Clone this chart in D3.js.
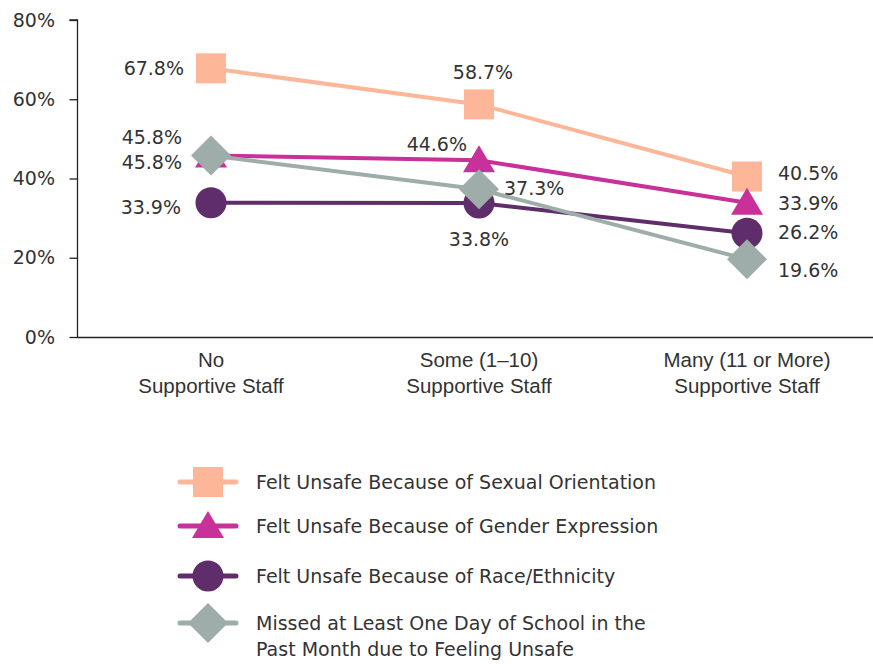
<!DOCTYPE html>
<html><head><meta charset="utf-8">
<script src="https://cdn.jsdelivr.net/npm/d3@7"></script>
<style>body{margin:0;background:#fff}svg{display:block}</style>
</head><body>
<svg id="c" width="873" height="664"></svg>
<script>
const categories = ["No\nSupportive Staff", "Some (1–10)\nSupportive Staff", "Many (11 or More)\nSupportive Staff"];
const yTicks = [0, 20, 40, 60, 80];
const seriesNames = [
  "Felt Unsafe Because of Sexual Orientation",
  "Felt Unsafe Because of Gender Expression",
  "Felt Unsafe Because of Race/Ethnicity",
  "Missed at Least One Day of School in the\nPast Month due to Feeling Unsafe"
];
const sexualOrientation = [67.8, 58.7, 40.5];
const genderExpression = [45.8, 44.6, 33.9];
const raceEthnicity = [33.9, 33.8, 26.2];
const missedSchool = [45.8, 37.3, 19.6];
const colors = ["#fdb697", "#c8309a", "#5f2d69", "#9eada9"];
// label placement: [dx, dy, anchor] per point
const labelPos = [
  [[-27, 0, "end"], [4, -32, "middle"], [31, -3, "start"]],
  [[-29, -18, "end"], [-12, -16, "end"], [31, 0, "start"]],
  [[-30, 4, "end"], [0, 36, "middle"], [31, -1, "start"]],
  [[-29, 7, "end"], [25, -1, "start"], [31, 11, "start"]]
];
const seriesData = [sexualOrientation, genderExpression, raceEthnicity, missedSchool];

const markerPaths = [
  "M-15,-15H15V15H-15Z",
  "M0,-15L16,12H-16Z",
  "M15.5,0A15.5,15.5,0,1,1,-15.5,0A15.5,15.5,0,1,1,15.5,0Z",
  "M0,-20L20,0L0,20L-20,0Z"
];

const svg = d3.select("#c");
const font = "'DejaVu Sans', sans-serif";
const catFont = "'Liberation Sans', Arial, sans-serif";

const x = d3.scalePoint().domain(d3.range(categories.length)).range([211, 747]);
const y = d3.scaleLinear().domain([0, 80]).range([337, 20]);

// Y axis
const yAxis = svg.append("g").attr("transform", "translate(77.5,0)")
  .call(d3.axisLeft(y).tickValues(yTicks).tickFormat(d => d + "%").tickSize(8).tickPadding(14.5));
yAxis.select(".domain").attr("stroke", "#222").attr("stroke-width", 1.3).attr("d", "M-8,20H0V337.5");
yAxis.selectAll(".tick line").attr("stroke", "#222").attr("stroke-width", 1.3);
yAxis.selectAll(".tick text").attr("font-family", font).attr("font-size", 19).attr("fill", "#333");

// X axis line
svg.append("line").attr("x1", 77).attr("x2", 873).attr("y1", 337.5).attr("y2", 337.5)
  .attr("stroke", "#222").attr("stroke-width", 1.3);

// category labels
categories.forEach((c, i) => {
  const t = svg.append("text").attr("x", x(i)).attr("y", 367).attr("text-anchor", "middle")
    .attr("font-family", catFont).attr("font-size", 20.5).attr("fill", "#333");
  c.split("\n").forEach((line, j) => t.append("tspan").attr("x", x(i)).attr("dy", j ? 26 : 0).text(line));
});

const line = d3.line().x((d, i) => x(i)).y(d => y(d));

seriesData.forEach((vals, s) => {
  svg.append("path").attr("d", line(vals)).attr("fill", "none")
    .attr("stroke", colors[s]).attr("stroke-width", 4);
});
seriesData.forEach((vals, s) => {
  vals.forEach((v, i) => {
    svg.append("path").attr("d", markerPaths[s])
      .attr("transform", `translate(${x(i)},${y(v)})`).attr("fill", colors[s]);
  });
});
seriesData.forEach((vals, s) => {
  vals.forEach((v, i) => {
    const [dx, dy, anchor] = labelPos[s][i];
    svg.append("text").attr("x", x(i) + dx).attr("y", y(v) + dy).attr("dy", "0.36em")
      .attr("text-anchor", anchor).attr("font-family", font).attr("font-size", 19)
      .attr("fill", "#333").text(v.toFixed(1) + "%");
  });
});

// legend
const legendY = [482, 526, 576, 623];
seriesNames.forEach((name, s) => {
  const g = svg.append("g").attr("transform", `translate(208,${legendY[s]})`);
  g.append("line").attr("x1", -28).attr("x2", 28).attr("stroke", colors[s])
    .attr("stroke-width", 5).attr("stroke-linecap", "round");
  g.append("path").attr("d", markerPaths[s]).attr("fill", colors[s]);
  const t = g.append("text").attr("x", 48).attr("y", 0)
    .attr("font-family", font).attr("font-size", 19).attr("fill", "#333");
  name.split("\n").forEach((l, j) => t.append("tspan").attr("x", 48).attr("dy", j ? 26 : "0.36em").text(l));
});
</script>
</body></html>
